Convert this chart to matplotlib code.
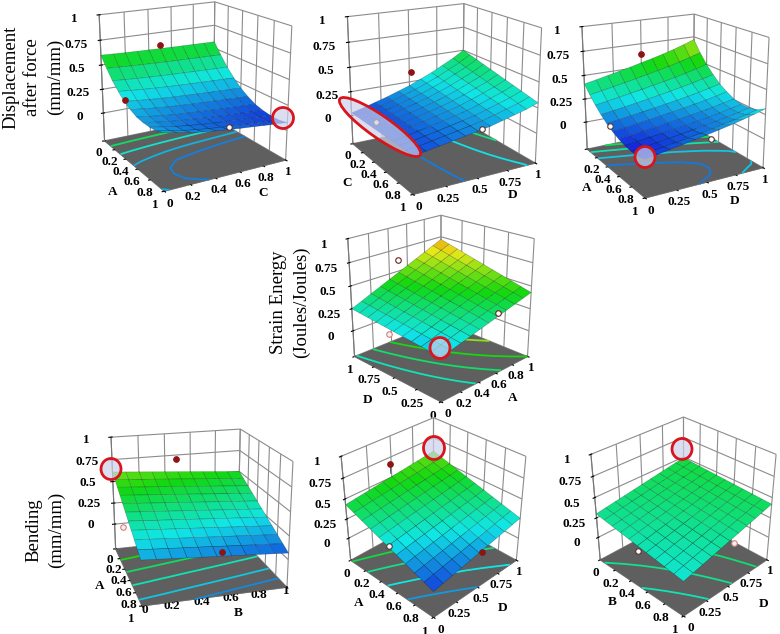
import itertools
import numpy as np
import matplotlib
matplotlib.use('Agg')
import matplotlib.pyplot as plt
from matplotlib.colors import LinearSegmentedColormap, Normalize
from matplotlib.patches import Ellipse
from mpl_toolkits.mplot3d import proj3d

# each surface: rows go from the left corner to the front corner,
# columns go from the front corner to the right corner
z_disp_ac = [
    [.600, .595, .590, .587, .584, .581, .578, .576, .574, .572, .570],
    [.500, .493, .486, .481, .476, .472, .469, .466, .463, .460, .457],
    [.410, .400, .392, .385, .379, .374, .370, .366, .362, .358, .354],
    [.340, .328, .318, .309, .302, .296, .290, .285, .281, .276, .271],
    [.280, .266, .254, .243, .235, .228, .221, .215, .209, .204, .198],
    [.240, .224, .210, .197, .188, .179, .172, .165, .158, .152, .145],
    [.210, .192, .175, .161, .151, .141, .132, .125, .117, .110, .102],
    [.200, .179, .161, .146, .133, .123, .113, .104, .096, .087, .079],
    [.200, .177, .157, .140, .126, .114, .104, .094, .085, .075, .066],
    [.210, .185, .163, .144, .129, .116, .104, .094, .084, .073, .063],
    [.240, .213, .189, .168, .152, .138, .125, .114, .102, .091, .080],
]
z_disp_cd = [
    [.030, .060, .095, .130, .170, .210, .260, .310, .370, .430, .500],
    [.033, .061, .095, .128, .166, .204, .251, .299, .356, .413, .480],
    [.036, .062, .094, .126, .162, .198, .242, .288, .342, .396, .460],
    [.039, .063, .094, .124, .158, .192, .233, .277, .328, .379, .440],
    [.042, .064, .093, .122, .154, .186, .224, .266, .314, .362, .420],
    [.045, .065, .093, .120, .150, .180, .215, .255, .300, .345, .400],
    [.048, .066, .092, .118, .146, .174, .206, .244, .286, .328, .380],
    [.051, .067, .092, .116, .142, .168, .197, .233, .272, .311, .360],
    [.054, .068, .091, .114, .138, .162, .188, .222, .258, .294, .340],
    [.057, .069, .091, .112, .134, .156, .179, .211, .244, .277, .320],
    [.060, .070, .090, .110, .130, .150, .170, .200, .230, .260, .300],
]
z_disp_ad = [
    [.410, .435, .461, .488, .515, .545, .574, .605, .639, .678, .720],
    [.330, .352, .375, .398, .422, .447, .473, .500, .530, .564, .600],
    [.260, .279, .300, .320, .342, .364, .387, .411, .438, .468, .500],
    [.200, .218, .236, .255, .275, .296, .317, .339, .363, .390, .420],
    [.150, .166, .183, .200, .218, .237, .256, .276, .298, .323, .350],
    [.110, .125, .141, .158, .175, .193, .211, .230, .251, .274, .300],
    [.080, .094, .110, .125, .141, .158, .175, .193, .213, .236, .260],
    [.060, .074, .090, .105, .121, .138, .155, .173, .193, .216, .240],
    [.050, .065, .081, .098, .115, .133, .151, .170, .191, .214, .240],
    [.050, .067, .085, .103, .121, .141, .161, .182, .205, .232, .260],
    [.070, .089, .110, .130, .152, .174, .197, .221, .248, .278, .310],
]
z_strain = [
    [.250, .297, .344, .391, .438, .485, .532, .579, .626, .673, .720],
    [.241, .286, .331, .376, .421, .466, .511, .556, .601, .646, .691],
    [.232, .275, .318, .361, .404, .447, .490, .533, .576, .619, .662],
    [.223, .264, .305, .346, .387, .428, .469, .510, .551, .592, .633],
    [.214, .253, .292, .331, .370, .409, .448, .487, .526, .565, .604],
    [.205, .242, .279, .316, .353, .390, .427, .464, .501, .538, .575],
    [.196, .231, .266, .301, .336, .371, .406, .441, .476, .511, .546],
    [.187, .220, .253, .286, .319, .352, .385, .418, .451, .484, .517],
    [.178, .209, .240, .271, .302, .333, .364, .395, .426, .457, .488],
    [.169, .198, .227, .256, .285, .314, .343, .372, .401, .430, .459],
    [.160, .187, .214, .241, .268, .295, .322, .349, .376, .403, .430],
]
z_bend_ab = [
    [.610, .599, .588, .577, .566, .555, .544, .533, .522, .511, .500],
    [.566, .555, .544, .533, .522, .512, .501, .490, .479, .468, .457],
    [.522, .511, .500, .490, .479, .468, .457, .446, .436, .425, .414],
    [.478, .467, .457, .446, .435, .425, .414, .403, .392, .382, .371],
    [.434, .423, .413, .402, .392, .381, .370, .360, .349, .339, .328],
    [.390, .380, .369, .359, .348, .338, .327, .317, .306, .296, .285],
    [.346, .336, .325, .315, .304, .294, .284, .273, .263, .252, .242],
    [.302, .292, .281, .271, .261, .251, .240, .230, .220, .209, .199],
    [.258, .248, .238, .227, .217, .207, .197, .187, .176, .166, .156],
    [.214, .204, .194, .184, .174, .164, .153, .143, .133, .123, .113],
    [.170, .160, .150, .140, .130, .120, .110, .100, .090, .080, .070],
]
z_bend_ad = [
    [.430, .445, .460, .475, .490, .505, .520, .535, .550, .565, .580],
    [.390, .406, .422, .437, .453, .469, .485, .501, .516, .532, .548],
    [.350, .367, .383, .400, .416, .433, .450, .466, .483, .499, .516],
    [.310, .327, .345, .362, .380, .397, .414, .432, .449, .467, .484],
    [.270, .288, .306, .325, .343, .361, .379, .397, .416, .434, .452],
    [.230, .249, .268, .287, .306, .325, .344, .363, .382, .401, .420],
    [.190, .210, .230, .249, .269, .289, .309, .329, .348, .368, .388],
    [.150, .171, .191, .212, .232, .253, .274, .294, .315, .335, .356],
    [.110, .131, .153, .174, .196, .217, .238, .260, .281, .303, .324],
    [.070, .092, .114, .137, .159, .181, .203, .225, .248, .270, .292],
    [.030, .053, .076, .099, .122, .145, .168, .191, .214, .237, .260],
]
z_bend_bd = [
    [.300, .319, .338, .357, .376, .395, .414, .433, .452, .471, .490],
    [.283, .303, .323, .343, .363, .383, .403, .423, .443, .463, .483],
    [.266, .287, .308, .329, .350, .371, .392, .413, .434, .455, .476],
    [.249, .271, .293, .315, .337, .359, .381, .403, .425, .447, .469],
    [.232, .255, .278, .301, .324, .347, .370, .393, .416, .439, .462],
    [.215, .239, .263, .287, .311, .335, .359, .383, .407, .431, .455],
    [.198, .223, .248, .273, .298, .323, .348, .373, .398, .423, .448],
    [.181, .207, .233, .259, .285, .311, .337, .363, .389, .415, .441],
    [.164, .191, .218, .245, .272, .299, .326, .353, .380, .407, .434],
    [.147, .175, .203, .231, .259, .287, .315, .343, .371, .399, .427],
    [.130, .159, .188, .217, .246, .275, .304, .333, .362, .391, .420],
]

ticks_a = ['0', '0.2', '0.4', '0.6', '0.8', '1']
ticks_a_no0 = ['', '0.2', '0.4', '0.6', '0.8', '1']
ticks_d = ['0', '0.25', '0.5', '0.75', '1']
ticks_d_rev = ['1', '0.75', '0.5', '0.25', '0']
ticks_z = ['0', '0.25', '0.5', '0.75', '1']
z_tick_vals = [0, 0.25, 0.5, 0.75, 1]
z_floor = -0.3

# design points: (left-axis pos, right-axis pos, z, stem top or None, kind, above surface)
pts_ac = [(0.0, 0.5, .62, None, 'red', True), (.42, 0, .30, None, 'red', True), (1, .5, .16, None, 'white', True)]
pts_cd = [(0, .52, .35, None, 'red', True), (.45, 0, .12, None, 'white', True), (1, .53, .16, None, 'white', True)]
pts_ad = [(0, .5, .64, None, 'red', True), (.45, 0, .15, None, 'white', True), (1, .53, .12, None, 'white', True)]
pts_strain = [(0, .5, .63, None, 'ring', True), (1, .6, .36, None, 'ring', True), (.45, 0, .16, None, 'pink', False)]
pts_bend_ab = [(0, .49, .71, None, 'red', True), (1, .53, .16, None, 'red', True), (.4, 0, .18, None, 'pink', False)]
pts_bend_ad = [(0, .49, .67, .55, 'red', True), (.1, .35, -.28, None, 'white', True), (1, .54, .13, None, 'red', True)]
pts_bend_bd = [(.15, .3, -.28, None, 'white', True), (1, .55, .22, None, 'pink', True)]

# z, x labels, y labels, elev, azim, z aspect, y pad, z pad, pixel box, colour range, contour levels, points
panels = [
    (z_disp_ac, ticks_a, ticks_a, 18, -30, 1.0, -5, 4, (98, 3, 293, 190), (.02, 1.15), [.16, .23, .34, .48], pts_ac),
    (z_disp_cd, ticks_a, ticks_d, 18, -30, 1.0, -5, 4, (346, 5, 543, 193), (0, 1.10), [.13, .27, .40], pts_cd),
    (z_disp_ad, ticks_a_no0, ticks_d, 18, -30, 1.0, -5, 4, (581, 15, 770, 197), (.05, 1.0), [.16, .25, .35, .45], pts_ad),
    (z_strain, ticks_d_rev, ticks_a, 22, -45, 1.0, -5, 2, (348, 215, 534, 402), (0, .85), [.26, .34, .43, .55], pts_strain),
    (z_bend_ab, ticks_a, ticks_a, 19, -16, 0.88, -9, 6, (107, 433, 297, 602), (0, 1.0), [.135, .21, .31, .41, .51], pts_bend_ab),
    (z_bend_ad, ticks_a, ticks_d, 33, -45, 1.0, -5, 2, (339, 420, 528, 615), (0, .95), [.145, .24, .34, .42], pts_bend_ad),
    (z_bend_bd, ticks_a, ticks_d, 32, -45, 1.0, -5, 2, (590, 418, 777, 615), (-.41, 1.6), [.21, .29, .38], pts_bend_bd),
]

side_labels = [
    ('Displacement\nafter force\n(mm/mm)', 33, 77),
    ('Strain Energy\n(Joules/Joules)', 290, 302),
    ('Bending\n(mm/mm)', 45, 530),
]
axis_letters = [
    ('A', 113, 192), ('C', 263, 193), ('C', 347, 183), ('D', 513, 195), ('A', 587, 188), ('D', 735, 201),
    ('D', 368, 400), ('A', 513, 398), ('A', 100, 586), ('B', 238, 613), ('A', 359, 603), ('D', 503, 608),
    ('B', 612, 602), ('D', 764, 604),
]
# red highlight marks (cx, cy, w, h, angle) in pixels
highlights = [
    (283, 118, 21, 21, 0), (380, 127, 98, 22, 35), (645, 157, 20, 21, 0), (440, 348, 20, 21, 0),
    (111, 469, 20, 21, 0), (434, 448, 21, 23, 0), (682, 449, 20, 21, 0),
]

plt.rcParams['font.family'] = ['Liberation Serif', 'DejaVu Serif']
plt.rcParams['grid.color'] = '#8c8c8c'
plt.rcParams['grid.linewidth'] = 0.8

rsm = LinearSegmentedColormap.from_list('rsm', ['#1420d8', '#10e6e6', '#10d810', '#e8e818', '#e8300c'])
W, H = 780, 634
fig = plt.figure(figsize=(W / 100, H / 100), dpi=100)


def fit_to_box(ax, box):
    # move and scale the square 3d axes until the drawn box sits on the given pixels
    for i in range(3):
        ax.apply_aspect()
        cor = np.array(list(itertools.product([0, 1], [0, 1], [z_floor, 1])))
        xs, ys, _ = proj3d.proj_transform(cor[:, 0], cor[:, 1], cor[:, 2], ax.get_proj())
        pix = ax.transData.transform(np.column_stack([xs, ys]))
        pos = ax.get_position()
        s = pos.width * W
        k = 0.5 * ((box[2] - box[0]) / np.ptp(pix[:, 0]) + (box[3] - box[1]) / np.ptp(pix[:, 1]))
        mid_now = (pix.min(axis=0) + pix.max(axis=0)) / 2
        mid_want = np.array([(box[0] + box[2]) / 2, H - (box[1] + box[3]) / 2])
        cx = pos.x0 * W + s / 2
        cy = pos.y0 * H + s / 2
        ncx = mid_want[0] + (cx - mid_now[0]) * k
        ncy = mid_want[1] + (cy - mid_now[1]) * k
        ns = s * k
        ax.set_position([(ncx - ns / 2) / W, (ncy - ns / 2) / H, ns / W, ns / H])


for z, xlab, ylab, elev, azim, zasp, ypad, zpad, box, crange, levels, pts in panels:
    ax = fig.add_axes([0.3, 0.3, 300 / W, 300 / H], projection='3d')
    ax.set_facecolor('none')
    ax.computed_zorder = False
    ax.set_proj_type('persp', focal_length=0.55)
    ax.view_init(elev=elev, azim=azim)
    ax.set_box_aspect((1, 1, zasp))

    Z = np.array(z)
    gx = np.linspace(0, 1, Z.shape[0])
    gy = np.linspace(0, 1, Z.shape[1])
    X, Y = np.meshgrid(gx, gy, indexing='ij')
    norm = Normalize(*crange)

    ax.plot_surface(np.array([[0, 0], [1, 1]]), np.array([[0, 1], [0, 1]]), np.full((2, 2), z_floor),
                    color='#5f5f5f', shade=False, zorder=0)
    ax.contour(X, Y, Z, levels=levels, zdir='z', offset=z_floor, cmap=rsm, norm=norm, linewidths=1.3, zorder=1)
    for px, py, pz, stem, kind, above in pts:
        col = {'red': '#8c1414', 'white': 'white', 'ring': 'white', 'pink': '#fbeeee'}[kind]
        edge = {'red': '#8c1414', 'white': '#553333', 'ring': '#702020', 'pink': '#d08080'}[kind]
        zo = 5 if above else 1.5
        if stem is not None:
            ax.plot([px, px], [py, py], [pz, stem], color='#555555', lw=0.7, zorder=zo)
        ax.plot([px], [py], [pz], 'o', ms=4, mfc=col, mec=edge, mew=0.8, zorder=zo)
    ax.plot_surface(X, Y, Z, cmap=rsm, norm=norm, rstride=1, cstride=1, shade=False,
                    edgecolor=(0, 0, 0, 0.3), linewidth=0.4, antialiased=True, zorder=3)

    ax.set_xlim(0, 1, view_margin=0)
    ax.set_ylim(0, 1, view_margin=0)
    ax.set_zlim(z_floor, 1, view_margin=0)
    ax.set_xticks(np.linspace(0, 1, len(xlab)))
    ax.set_xticklabels(xlab, fontweight='bold', fontsize=9.5)
    ax.set_yticks(np.linspace(0, 1, len(ylab)))
    ax.set_yticklabels(ylab, fontweight='bold', fontsize=9.5)
    ax.set_zticks(z_tick_vals)
    ax.set_zticklabels(ticks_z, fontweight='bold', fontsize=9.5)
    ax.tick_params(axis='x', pad=-4, length=0)
    ax.tick_params(axis='y', pad=ypad, length=0)
    ax.tick_params(axis='z', pad=zpad, length=0)
    ax.zaxis.set_ticks_position('lower')
    # keep the two labels at the front corner apart
    ax.get_xticklabels()[-1].set_ha('right')
    ax.get_yticklabels()[0].set_ha('left')
    for a in (ax.xaxis, ax.yaxis, ax.zaxis):
        a.pane.set_edgecolor('#8c8c8c')
        a.set_pane_color((1, 1, 1, 1))
        a.line.set_color('#777777')
    fit_to_box(ax, box)

ov = fig.add_axes([0, 0, 1, 1], zorder=20)
ov.set_xlim(0, W)
ov.set_ylim(H, 0)
ov.axis('off')
for cx, cy, w, h, ang in highlights:
    ov.add_patch(Ellipse((cx, cy), w, h, angle=ang, facecolor=(0.80, 0.82, 0.92, 0.7), edgecolor='#d8141c', lw=2))
for s, x, y in side_labels:
    ov.text(x, y, s, rotation=90, ha='center', va='center', fontsize=13.5, linespacing=1.4, multialignment='center')
for s, x, y in axis_letters:
    ov.text(x, y, s, ha='center', va='center', fontsize=9.5, fontweight='bold')

fig.savefig('out.png', dpi=100)
